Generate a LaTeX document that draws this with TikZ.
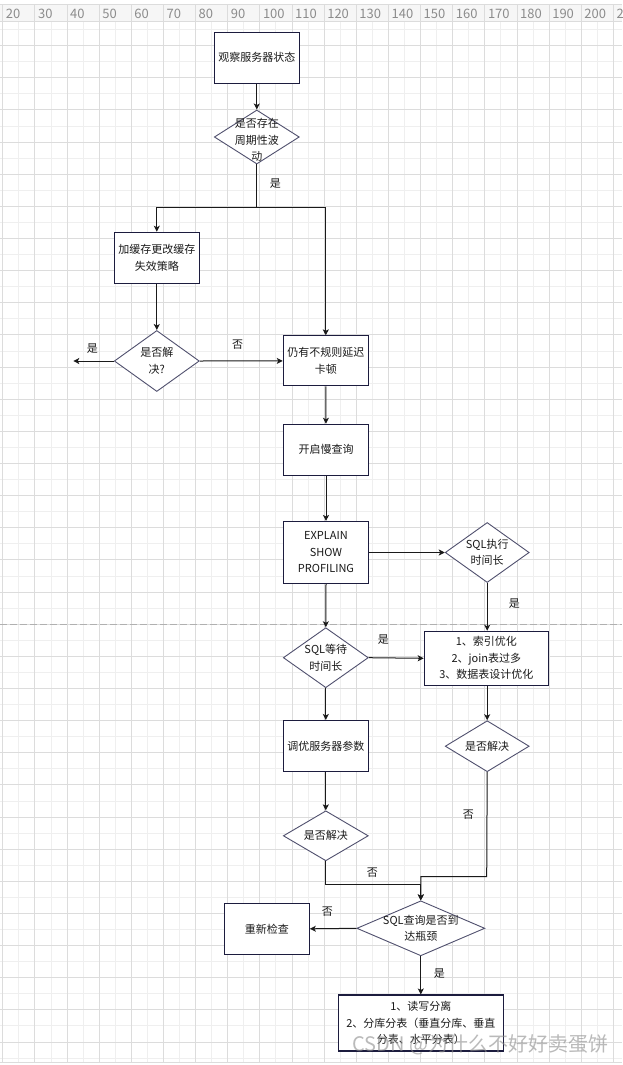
\documentclass[tikz,border=0pt]{standalone}
\usepackage{fontspec}
\setmainfont{Noto Sans CJK SC}
\usetikzlibrary{arrows.meta,shapes.geometric}
\definecolor{boxline}{HTML}{1C1C3E}
\definecolor{diamline}{HTML}{50506E}
\definecolor{flowtext}{HTML}{1A1A1A}
\definecolor{gridminor}{HTML}{EFEFEF}
\definecolor{gridmajor}{HTML}{DCDCDC}
\definecolor{rulerfill}{HTML}{F6F6F6}
\definecolor{rulertext}{HTML}{8C8C8C}
\definecolor{pagebreak}{HTML}{B0B0B0}
\newcommand{\flowfont}{\fontsize{11}{16.5}\selectfont}
\tikzset{
  flowbox/.style={draw=boxline, rectangle, line width=1.1pt, fill=white, text=flowtext, font=\flowfont, align=center, minimum width=85pt, minimum height=51pt, inner sep=0pt},
  flowdiam/.style={draw=diamline, diamond, line width=0.9pt, fill=white, inner sep=0pt, minimum width=85pt, minimum height=54pt},
  diamtext/.style={text=flowtext, font=\flowfont, align=center, inner sep=0pt},
  flowline/.style={line width=1pt, draw=flowtext, -{Stealth[length=6pt,width=6pt,inset=1.5pt]}},
  flowword/.style={text=flowtext, font=\flowfont, inner sep=0pt},
  gridthin/.style={draw=gridminor, line width=0.8pt},
  gridthick/.style={draw=gridmajor, line width=0.8pt},
  rulerword/.style={text=rulertext, font=\fontsize{13}{13}\selectfont, inner sep=0pt, anchor=west},
  watermark/.style={text=black!45, text opacity=0.6, font=\fontsize{20}{20}\selectfont, inner sep=0pt}
}

\begin{document}
\begin{tikzpicture}[x=1pt,y=-1pt]
    \useasboundingbox (0,0) rectangle (622,1065);
    % background grid and ruler
    \fill[white] (0,0) rectangle (622,1065);
    \fill[rulerfill] (0,4.3) rectangle (622,21.7);
    \foreach \k in {1,3,...,37} {
      \pgfmathsetmacro{\gx}{2.7+16.07*\k}
      \draw[gridthin] (\gx,21.7) -- (\gx,1062.7);
    }
    \foreach \m in {-1,1,...,63} {
      \pgfmathsetmacro{\gy}{45.6+16.07*\m}
      \draw[gridthin] (0,\gy) -- (622,\gy);
    }
    \foreach \k in {0,2,...,38} {
      \pgfmathsetmacro{\gx}{2.7+16.07*\k}
      \draw[gridthick] (\gx,4.3) -- (\gx,1062.7);
    }
    \foreach \m in {0,2,...,62} {
      \pgfmathsetmacro{\gy}{45.6+16.07*\m}
      \draw[gridthick] (0,\gy) -- (622,\gy);
    }
    \draw[gridthick] (0,4.3) -- (622,4.3);
    \draw[gridthick] (0,21.7) -- (622,21.7);
    \draw[gridthick] (0,1062.7) -- (622,1062.7);
    \foreach \n [count=\i from 0] in {20,30,...,210} {
      \node[rulerword] (r\n) at (5.7+32.14*\i,13.5) {\n};
    }
    \draw[pagebreak, line width=0.9pt, dash pattern=on 7pt off 3pt] (0,624.2) -- (622,624.2);

    % boxes
    \node[flowbox] (b1) at (256.8,57.8) {观察服务器状态};
    \node[flowbox] (b2) at (156.8,257.8) {加缓存更改缓存\\失效策略};
    \node[flowbox, minimum height=50pt] (b3) at (325.8,360.9) {仍有不规则延迟\\卡顿};
    \node[flowbox] (b4) at (326,449.8) {开启慢查询};
    \node[flowbox, minimum height=62pt] (b5) at (326,552.5) {EXPLAIN\\SHOW\\PROFILING};
    \node[flowbox, minimum width=124pt, minimum height=54pt] (b6) at (486.3,658.3) {1、索引优化\\2、join表过多\\3、数据表设计优化};
    \node[flowbox] (b7) at (325.8,746) {调优服务器参数};
    \node[flowbox] (b8) at (266.8,928.8) {重新检查};
    \node[flowbox, minimum width=165pt, minimum height=56pt] (b9) at (420.8,1023) {1、读写分离\\2、分库分表（垂直分库、垂直\\分表、水平分表）};

    % decisions
    \node[flowdiam, label={[diamtext, yshift=-3pt]center:{是否存在\\周期性波\\动}}] (d1) at (256.8,137) {};
    \node[flowdiam, minimum height=61pt, label={[diamtext]center:{是否解\\决?}}] (d2) at (156.8,361) {};
    \node[flowdiam, minimum width=84pt, minimum height=60pt, label={[diamtext]center:{SQL执行\\时间长}}] (d3) at (487.2,552.5) {};
    \node[flowdiam, minimum height=60pt, label={[diamtext]center:{SQL等待\\时间长}}] (d4) at (325.8,657.7) {};
    \node[flowdiam, minimum width=84pt, minimum height=51pt, label={[diamtext]center:{是否解决}}] (d5) at (487.2,746.2) {};
    \node[flowdiam, minimum height=50pt, label={[diamtext]center:{是否解决}}] (d6) at (325.8,835.8) {};
    \node[flowdiam, minimum width=128pt, minimum height=55pt, label={[diamtext]center:{SQL查询是否到\\达瓶颈}}] (d7) at (420.8,928.3) {};

    % connectors
    \coordinate (j1) at (256.8,207.7);
    \coordinate (out) at (73.3,361);
    \coordinate (j2) at (325.8,884.3);
    \coordinate (j3) at (486.7,876.7);
    \draw[flowline] (b1) -- (d1);
    \draw[flowline] (d1.south) -- (j1) -| (b2.north);
    \draw[flowline] (j1) -| (b3.north);
    \draw[flowline] (b2) -- (d2);
    \draw[flowline] (d2.west) -- (out);
    \draw[flowline] (d2.east) -- (b3.west);
    \draw[flowline] (b3) -- (b4);
    \draw[flowline] (b4) -- (b5);
    \draw[flowline] (b5.east) -- (d3.west);
    \draw[flowline] (d3.south) -- (b6.north -| d3.south);
    \draw[flowline] (b5.south) -- (d4.north);
    \draw[flowline] (d4.east) -- (b6.west);
    \draw[flowline] (d4.south) -- (b7.north);
    \draw[flowline] (b6.south -| d5.north) -- (d5.north);
    \draw[flowline] (b7.south) -- (d6.north);
    \draw[flowline] (d6.south) -- (j2) -| (d7.north);
    \draw[flowline] (d5.south) -- (j3) -| (d7.north);
    \draw[flowline] (d7.west) -- (b8.east);
    \draw[flowline] (d7.south) -- (b9.north);

    % connector labels
    \node[flowword] (w1) at (275.3,183.3) {是};
    \node[flowword] (w2) at (92.3,348.3) {是};
    \node[flowword] (w3) at (237.7,344.3) {否};
    \node[flowword] (w4) at (514.3,604) {是};
    \node[flowword] (w5) at (383.3,639.3) {是};
    \node[flowword] (w6) at (468.3,815) {否};
    \node[flowword] (w7) at (372.3,872.3) {否};
    \node[flowword] (w8) at (327.3,911.7) {否};
    \node[flowword] (w9) at (439.3,974) {是};

    \node[watermark] (wm) at (480.5,1045) {CSDN @为什么不好好卖蛋饼};
  \end{tikzpicture}
\end{document}
